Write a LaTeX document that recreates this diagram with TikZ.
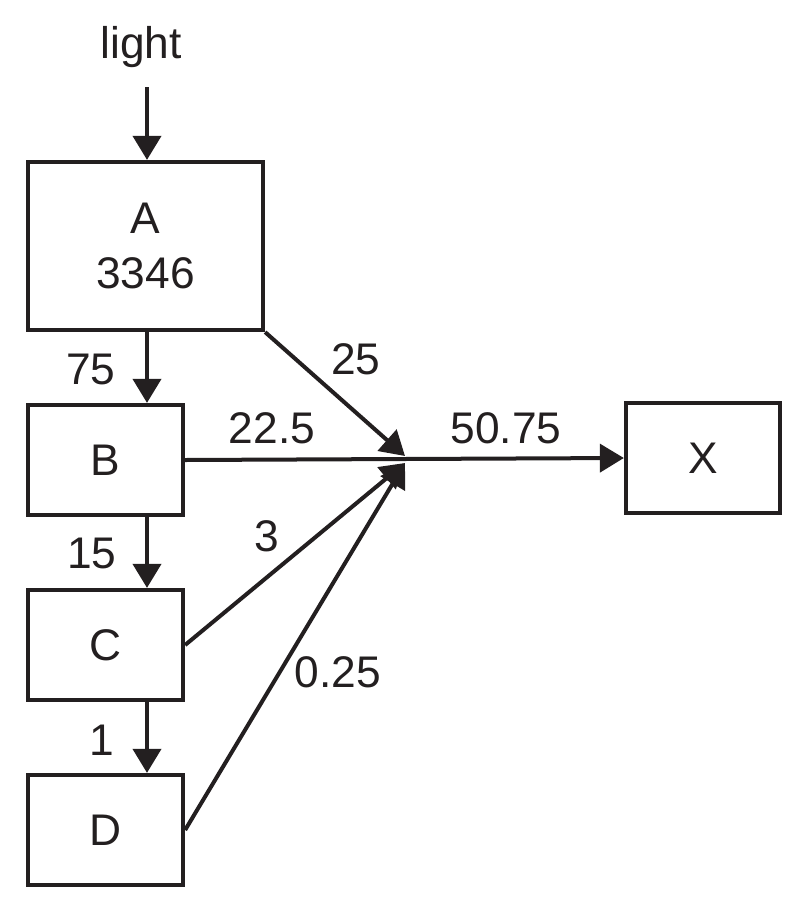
\documentclass[tikz,border=0pt]{standalone}
\usepackage{fontspec}
\setmainfont{Liberation Sans}
\usetikzlibrary{arrows.meta}
\definecolor{ink}{RGB}{35,31,32}
\begin{document}
\begin{tikzpicture}[x=0.025cm,y=-0.025cm,
  box/.style={draw=ink,line width=0.105cm,inner sep=0pt,text=ink,align=center},
  lbl/.style={inner sep=0pt,text=ink},
  conn/.style={draw=ink,line width=0.1cm},
  arr/.style={conn,-{Triangle[length=0.6cm,width=0.7cm]}},
  font=\fontsize{31.5}{38.5}\selectfont]
\useasboundingbox (0,0) rectangle (804,909);
\node[box,minimum width=5.875cm,minimum height=4.2cm] (A) at (145.5,246) {A\\3346};
\node[box,minimum width=3.875cm,minimum height=2.75cm] (B) at (105.5,460) {B};
\node[box,minimum width=3.875cm,minimum height=2.75cm] (C) at (105.5,645) {C};
\node[box,minimum width=3.875cm,minimum height=2.75cm] (D) at (105.5,830) {D};
\node[box,minimum width=3.85cm,minimum height=2.75cm] (X) at (703,458) {X};
\node[lbl] (light) at (141,47) {light};
\coordinate (xl) at (147,0);
\coordinate (top) at (147,87);
\coordinate (J1) at (405,456);
\coordinate (J2) at (405,463);
\draw[arr] (top) -- (A.north -| xl);
\draw[arr] (A.south -| xl) -- (B.north -| xl);
\draw[arr] (B.south -| xl) -- (C.north -| xl);
\draw[arr] (C.south -| xl) -- (D.north -| xl);
\draw[arr] (A.south east) -- (J1);
\draw[arr] (C.east) -- (J2);
\draw[arr] (D.east) -- (J2);
\draw[arr] (B.east) -- (X.west);
\node[lbl] (l75) at (91,369) {75};
\node[lbl] (l15) at (92,553) {15};
\node[lbl] (l1) at (102,740) {1};
\node[lbl] (l25) at (356,359) {25};
\node[lbl] (l225) at (272,428) {22.5};
\node[lbl] (l3) at (267,536) {3};
\node[lbl] (l025) at (338,672) {0.25};
\node[lbl] (l5075) at (506,428) {50.75};
\end{tikzpicture}
\end{document}
